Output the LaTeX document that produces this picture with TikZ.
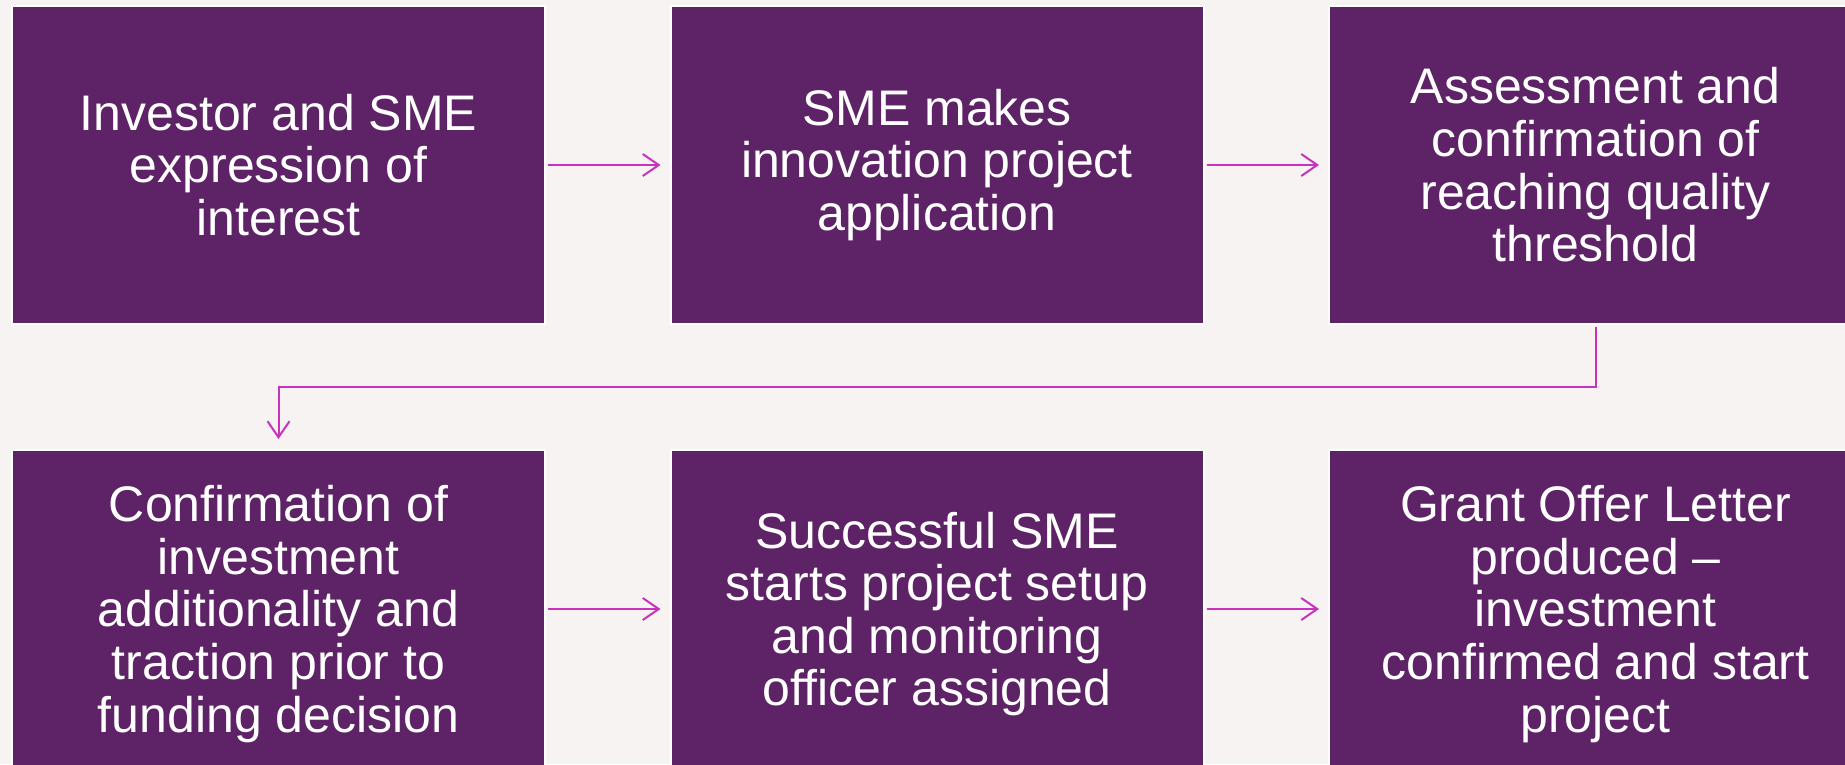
\documentclass[tikz,border=0pt]{standalone}
\usepackage{fontspec}
\setmainfont{Liberation Sans}
\usetikzlibrary{arrows.meta}
\definecolor{bgc}{RGB}{247,243,242}
\definecolor{boxc}{RGB}{94,34,102}
\definecolor{arrc}{RGB}{200,50,190}
\tikzset{
  stepbox/.style={rectangle, fill=boxc, draw=white, line width=2pt, minimum width=533pt, minimum height=318pt, align=center, text=white, font=\fontsize{50}{52.6}\selectfont, inner sep=0pt},
  lowbox/.style={stepbox, minimum height=328pt},
  conn/.style={draw=arrc, line width=2pt, -{Straight Barb[length=16pt,width=22pt,line width=2pt]}}
}
\begin{document}
\begin{tikzpicture}[x=1pt,y=-1pt]
\useasboundingbox (0,0) rectangle (1845,764);
\clip (0,0) rectangle (1845,764);
\fill[bgc] (0,0) rectangle (1845,764);
\node[stepbox] (a) at (278.5,165) {Investor and SME\\expression of\\interest};
\node[stepbox] (b) at (937,165) {SME makes\\innovation project\\application};
\node[stepbox] (c) at (1595.5,165) {Assessment and\\confirmation of\\reaching quality\\threshold};
\node[lowbox] (d) at (278.5,614) {Confirmation of\\investment\\additionality and\\traction prior to\\funding decision};
\node[lowbox] (e) at (937,614) {Successful SME\\starts project setup\\and monitoring\\officer assigned};
\node[lowbox] (f) at (1595.5,614) {Grant Offer Letter\\produced --\\investment\\confirmed and start\\project};
\draw[conn] ([xshift=2pt]a.east) -- ([xshift=-9pt]b.west);
\draw[conn] ([xshift=2pt]b.east) -- ([xshift=-9pt]c.west);
\draw[conn] ([xshift=2pt,yshift=5pt]d.east) -- ([xshift=-9pt,yshift=5pt]e.west);
\draw[conn] ([xshift=2pt,yshift=5pt]e.east) -- ([xshift=-9pt,yshift=5pt]f.west);
\coordinate (m1) at (1595.5,387);
\coordinate (m2) at (278.5,387);
\draw[conn] ([yshift=-2pt]c.south) -- (m1) -- (m2) -- ([yshift=10pt]d.north);
\end{tikzpicture}
\end{document}
